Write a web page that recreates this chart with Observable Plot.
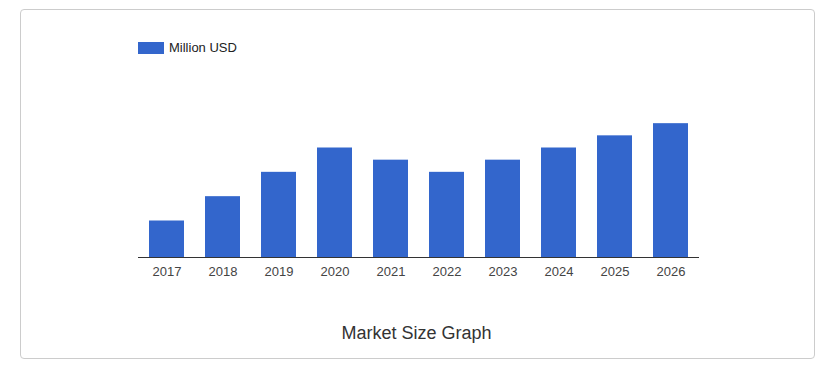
<!DOCTYPE html>
<html>
<head>
<meta charset="utf-8">
<script src="https://cdn.jsdelivr.net/npm/d3@7"></script>
<script src="https://cdn.jsdelivr.net/npm/@observablehq/plot@0.6"></script>
<style>
  html, body { margin: 0; padding: 0; background: #fff; }
  body { width: 833px; height: 367px; position: relative; overflow: hidden; font-family: "Liberation Sans", Arial, sans-serif; }
  #frame { position: absolute; left: 20px; top: 9px; width: 793px; height: 348px; border: 1px solid #ccc; border-radius: 4px; box-sizing: content-box; }
  #chart { position: absolute; left: 0; top: 0; }
  #legend { position: absolute; left: 138px; top: 40px; display: flex; align-items: center; font-size: 13px; color: #222; }
  #legend .sw { width: 26px; height: 12px; background: #3366cc; margin-right: 5px; }
  #title { position: absolute; left: 0; width: 833px; top: 323px; text-align: center; font-size: 18px; color: #333; }
</style>
</head>
<body>
<div id="frame"></div>
<div id="chart"></div>
<div id="legend"><span class="sw"></span><span>Million USD</span></div>
<div id="title">Market Size Graph</div>
<script>
const years = ["2017","2018","2019","2020","2021","2022","2023","2024","2025","2026"];
const values = [3, 5, 7, 9, 8, 7, 8, 9, 10, 11];
const seriesName = "Million USD";

const data = years.map((y, i) => ({year: y, value: values[i]}));

const chart = Plot.plot({
  width: 833,
  height: 290,
  marginLeft: 138,
  marginRight: 134,
  marginTop: 111,
  marginBottom: 33,
  style: {fontFamily: "'Liberation Sans', Arial, sans-serif", fontSize: "13px", background: "transparent"},
  x: {domain: years, paddingInner: 0.375, paddingOuter: 0.196, label: null},
  y: {domain: [0, 12], axis: null},
  marks: [
    Plot.barY(data, {x: "year", y: "value", fill: "#3366cc"}),
    Plot.ruleY([0], {stroke: "#333", strokeWidth: 1}),
    Plot.axisX({tickSize: 0, tickPadding: 9, fill: "#444", fontSize: 13, label: null})
  ]
});
document.getElementById("chart").appendChild(chart);
</script>
</body>
</html>
